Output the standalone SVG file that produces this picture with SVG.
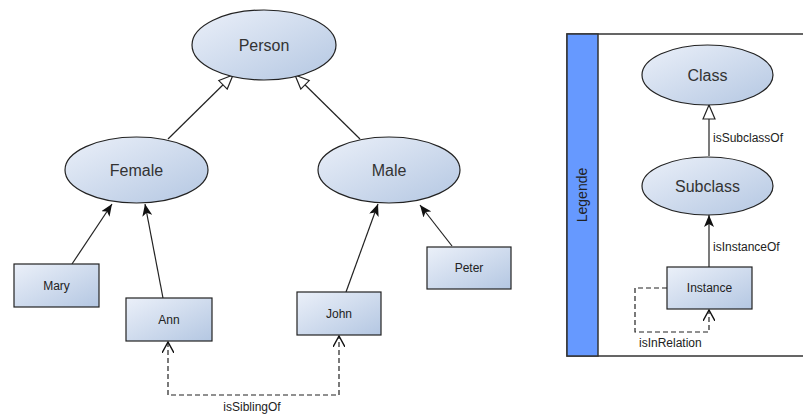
<svg xmlns="http://www.w3.org/2000/svg" width="803" height="414" viewBox="0 0 803 414">
  <style>
    .node { fill: url(#nodeFill); stroke: #222; stroke-width: 1.2; }
    .edge { fill: none; stroke: #222; stroke-width: 1.2; }
    .dash { stroke-dasharray: 5 3; }
    .big { font-family: "Liberation Sans", Arial, sans-serif; font-size: 16px; fill: #333; text-anchor: middle; }
    .small { font-family: "Liberation Sans", Arial, sans-serif; font-size: 12px; fill: #222; text-anchor: middle; }
    .lbl { font-family: "Liberation Sans", Arial, sans-serif; font-size: 12px; fill: #222; }
  </style>
  <defs>
    <linearGradient id="nodeFill" x1="0" y1="0" x2="1" y2="1">
      <stop offset="0" stop-color="#ebf0f9"/>
      <stop offset="1" stop-color="#b4c7e2"/>
    </linearGradient>
    <marker id="filled" viewBox="0 0 12 10" refX="12" refY="5" markerWidth="12" markerHeight="10" markerUnits="userSpaceOnUse" orient="auto">
      <path d="M0,0 L12,5 L0,10 L3,5 Z" fill="#111"/>
    </marker>
    <marker id="hollow" viewBox="0 0 16 14" refX="15" refY="7" markerWidth="16" markerHeight="14" markerUnits="userSpaceOnUse" orient="auto">
      <path d="M1,1 L15,7 L1,13 Z" fill="#fff" stroke="#222" stroke-width="1.2"/>
    </marker>
    <marker id="open" viewBox="0 0 12 12" refX="11" refY="6" markerWidth="12" markerHeight="12" markerUnits="userSpaceOnUse" orient="auto-start-reverse">
      <path d="M0,0 L11,6 L0,12" fill="none" stroke="#111" stroke-width="1.4"/>
    </marker>
  </defs>

  <!-- legend frame -->
  <g id="legend">
    <rect x="567" y="34" width="250" height="322" fill="#fff" stroke="#333" stroke-width="1.5"/>
    <rect x="567" y="34" width="31" height="322" fill="#6699ff" stroke="#333" stroke-width="1.5"/>
    <text class="lbl" style="font-size:14px" transform="translate(587,195) rotate(-90)" text-anchor="middle">Legende</text>
  </g>

  <!-- connectors -->
  <g id="connectors">
    <line class="edge" x1="168" y1="139" x2="233" y2="75" marker-end="url(#hollow)"/>
    <line class="edge" x1="360" y1="139" x2="295" y2="75" marker-end="url(#hollow)"/>
    <line class="edge" x1="72" y1="264" x2="112" y2="204" marker-end="url(#filled)"/>
    <line class="edge" x1="163" y1="298" x2="145" y2="204" marker-end="url(#filled)"/>
    <line class="edge" x1="346" y1="292" x2="378" y2="204" marker-end="url(#filled)"/>
    <line class="edge" x1="452" y1="246" x2="420" y2="205" marker-end="url(#filled)"/>
    <path class="edge dash" d="M168,342 L168,395 L339,395 L339,336" marker-start="url(#open)" marker-end="url(#open)"/>
    <text class="lbl" x="252" y="411" text-anchor="middle">isSiblingOf</text>

    <line class="edge" x1="709" y1="156" x2="709" y2="105" marker-end="url(#hollow)"/>
    <text class="lbl" x="713" y="142">isSubclassOf</text>
    <line class="edge" x1="709" y1="267" x2="709" y2="215" marker-end="url(#filled)"/>
    <text class="lbl" x="713" y="251">isInstanceOf</text>
    <path class="edge dash" d="M667,288 L635,288 L635,332 L709,332 L709,310" marker-end="url(#open)"/>
    <text class="lbl" x="639" y="347">isInRelation</text>
  </g>

  <g id="person">
    <ellipse class="node" cx="264" cy="45" rx="72" ry="35"/>
    <text class="big" x="264" y="51">Person</text>
  </g>
  <g id="female">
    <ellipse class="node" cx="136.5" cy="170" rx="71.5" ry="33"/>
    <text class="big" x="136.5" y="176">Female</text>
  </g>
  <g id="male">
    <ellipse class="node" cx="389" cy="170" rx="71" ry="33"/>
    <text class="big" x="389" y="176">Male</text>
  </g>
  <g id="mary">
    <rect class="node" x="14" y="264" width="85" height="43"/>
    <text class="small" x="56.5" y="290">Mary</text>
  </g>
  <g id="ann">
    <rect class="node" x="126" y="298" width="86" height="43"/>
    <text class="small" x="169" y="324">Ann</text>
  </g>
  <g id="john">
    <rect class="node" x="297" y="292" width="84" height="43"/>
    <text class="small" x="339" y="318">John</text>
  </g>
  <g id="peter">
    <rect class="node" x="427" y="247" width="84" height="42"/>
    <text class="small" x="469" y="272">Peter</text>
  </g>

  <g id="class">
    <ellipse class="node" cx="707.5" cy="75" rx="65.5" ry="30"/>
    <text class="big" x="707.5" y="81">Class</text>
  </g>
  <g id="subclass">
    <ellipse class="node" cx="707.5" cy="186" rx="65.5" ry="29"/>
    <text class="big" x="707.5" y="192">Subclass</text>
  </g>
  <g id="instance">
    <rect class="node" x="667" y="267" width="85" height="42"/>
    <text class="small" x="709.5" y="292">Instance</text>
  </g>
</svg>
